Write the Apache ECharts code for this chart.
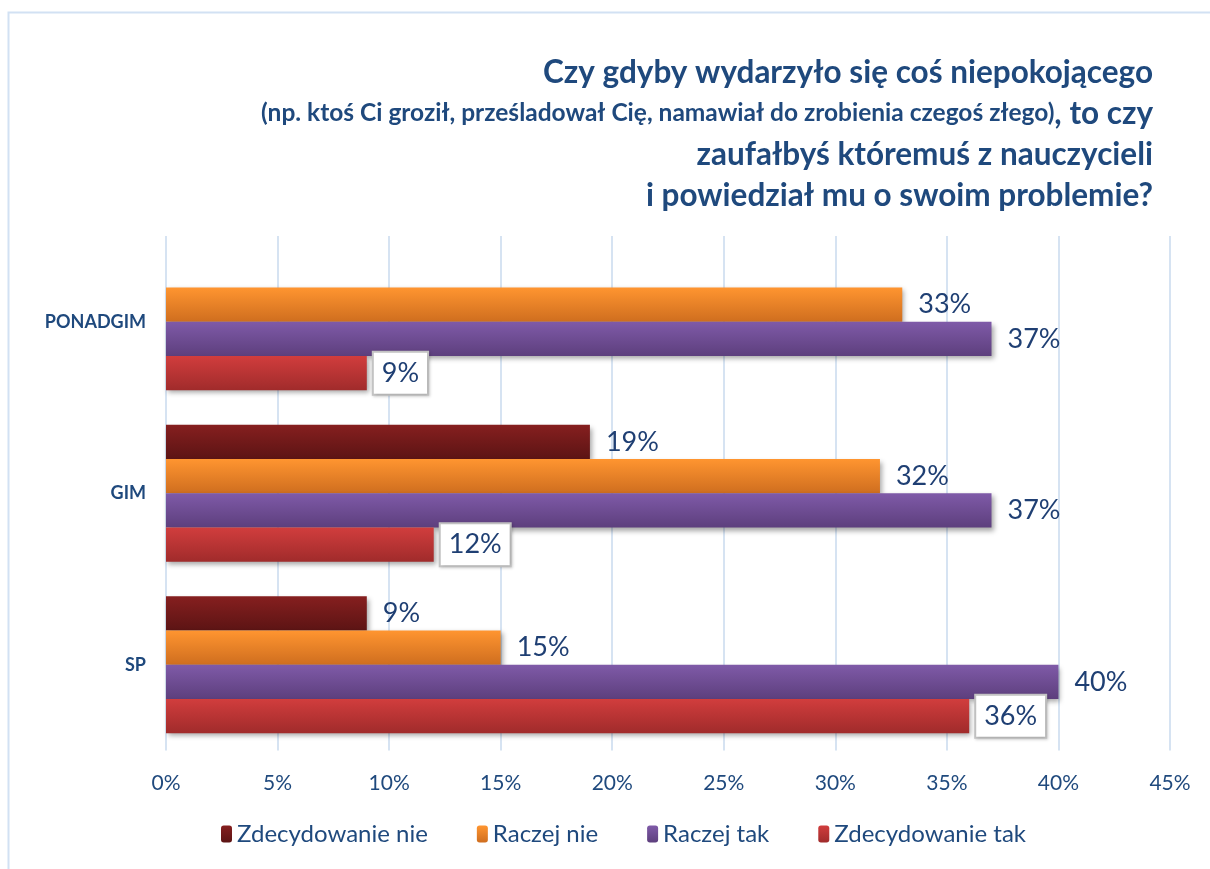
<!DOCTYPE html>
<html>
<head>
<meta charset="utf-8">
<title>Zaufanie do nauczycieli</title>
<script src="https://cdn.jsdelivr.net/npm/echarts@6/dist/echarts.min.js"></script>
<style>
  html, body { margin: 0; padding: 0; background: #ffffff; }
  #chart { width: 1210px; height: 869px; }
</style>
</head>
<body>
<div id="chart"></div>
<script>
// Survey groups, listed top to bottom (the category axis is inverted)
const categories = ['PONADGIM', 'GIM', 'SP'];
const seriesNames = ['Zdecydowanie nie', 'Raczej nie', 'Raczej tak', 'Zdecydowanie tak'];

// Percent of answers per group, in the order of `categories`
const zdecydowanieNie = [null, 19, 9];
const raczejNie = [33, 32, 15];
const raczejTak = [37, 37, 40];
const zdecydowanieTak = [9, 12, 36];

const xTicks = { min: 0, max: 45, step: 5 };

const FONT = 'Lato, "Open Sans", sans-serif';
const NAVY = '#1f497d';

function grad(top, bottom) {
  return {
    type: 'linear', x: 0, y: 0, x2: 0, y2: 1,
    colorStops: [{ offset: 0, color: top }, { offset: 1, color: bottom }]
  };
}

const palette = [
  grad('#861f1f', '#5c1414'),
  grad('#ff9530', '#cf6e1f'),
  grad('#7f5aa8', '#5d3f7d'),
  grad('#d13d3d', '#a02b2b')
];

const plainLabel = {
  show: true,
  position: 'right',
  distance: 16,
  fontFamily: FONT,
  fontSize: 27,
  color: '#1f3f73',
  formatter: p => p.value + '%'
};

const boxedLabel = Object.assign({}, plainLabel, {
  distance: 7,
  backgroundColor: '#ffffff',
  borderColor: '#c4c4c4',
  borderWidth: 2,
  padding: [8, 8, 6, 8],
  shadowColor: 'rgba(0,0,0,0.18)',
  shadowBlur: 3,
  shadowOffsetX: 1,
  shadowOffsetY: 1
});

function barSeries(name, data, color, label) {
  return {
    name: name,
    type: 'bar',
    data: data,
    barGap: '0%',
    barCategoryGap: '20%',
    itemStyle: {
      color: color,
      shadowColor: 'rgba(0,0,0,0.35)',
      shadowBlur: 5,
      shadowOffsetX: 2,
      shadowOffsetY: 3
    },
    label: label
  };
}

const chart = echarts.init(document.getElementById('chart'));

chart.setOption({
  backgroundColor: '#ffffff',
  animation: false,
  title: {
    right: 52,
    top: 47,
    text: '{a|Czy gdyby wydarzyło się coś niepokojącego}\n' +
          '{b|(np. ktoś Ci groził, prześladował Cię, namawiał do zrobienia czegoś złego)}{a|, to czy}\n' +
          '{a|zaufałbyś któremuś z nauczycieli}\n' +
          '{a|i powiedział mu o swoim problemie?}',
    textStyle: {
      rich: {
        a: { fontFamily: FONT, fontWeight: 'bold', fontSize: 31.5, color: NAVY, lineHeight: 41, align: 'right' },
        b: { fontFamily: FONT, fontWeight: 'bold', fontSize: 24.5, color: NAVY, lineHeight: 41, align: 'right' }
      }
    }
  },
  graphic: [{
    type: 'polyline',
    shape: { points: [[8.5, 869], [8.5, 12.5], [1210, 12.5]] },
    style: { stroke: '#d2e1f3', lineWidth: 2, fill: null }
  }],
  legend: {
    bottom: 18,
    left: 216,
    itemWidth: 11,
    itemHeight: 17,
    itemGap: 49,
    data: seriesNames,
    textStyle: { fontFamily: FONT, fontSize: 24, color: NAVY }
  },
  grid: { left: 166, right: 40, top: 236, bottom: 118.5, containLabel: false },
  xAxis: {
    type: 'value',
    min: xTicks.min,
    max: xTicks.max,
    interval: xTicks.step,
    axisLine: { show: false },
    axisTick: { show: false },
    axisLabel: { formatter: '{value}%', fontFamily: FONT, fontSize: 21, color: NAVY, margin: 22 },
    splitLine: { show: true, lineStyle: { color: '#d6e3f2', width: 2 } }
  },
  yAxis: {
    type: 'category',
    inverse: true,
    data: categories,
    axisLine: { show: false },
    axisTick: { show: false },
    axisLabel: { fontFamily: FONT, fontWeight: 'bold', fontSize: 18, color: NAVY, margin: 20 }
  },
  series: [
    barSeries(seriesNames[0], zdecydowanieNie, palette[0], plainLabel),
    barSeries(seriesNames[1], raczejNie, palette[1], plainLabel),
    barSeries(seriesNames[2], raczejTak, palette[2], plainLabel),
    barSeries(seriesNames[3], zdecydowanieTak, palette[3], boxedLabel)
  ]
});
</script>
</body>
</html>
